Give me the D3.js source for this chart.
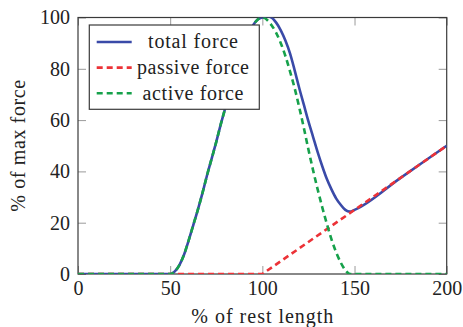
<!DOCTYPE html>
<html>
<head>
<script src="https://cdn.jsdelivr.net/npm/d3@7"></script>
</head>
<body style="margin:0">
<div class="svg-container"></div>
<script>
// values
const activeLength = [0, 50, 52.5, 55, 57.5, 60, 62.5, 65, 67.5, 70, 72.5, 75, 77.5, 80, 82.5, 85, 87.5, 90, 92.5, 95, 97.5, 100,
  105, 110, 112.5, 115, 117.5, 120, 122.5, 125, 127.5, 130, 132.5, 135, 137.5, 140, 142.5, 145, 147.5, 200];
const activeForce = [0, 0, 1, 3.5, 7.5, 13, 19, 25, 31.5, 38.5, 45, 51.5, 58.5, 65, 71.5, 78, 84, 89, 93.5, 97, 99.2, 100,
  97, 90, 85, 79, 72.5, 65, 57, 48.5, 40.5, 33, 26, 19.5, 13.5, 8.5, 4.5, 1.5, 0, 0];

const passiveLength = [0, 100, 200];
const passiveForce = [0, 0, 50];

const totalLength = [0, 50, 52.5, 55, 57.5, 60, 62.5, 65, 67.5, 70, 72.5, 75, 77.5, 80, 82.5, 85, 87.5, 90, 92.5, 95, 97.5, 100,
  102.5, 105, 107.5, 110, 112.5, 115, 117.5, 120, 122.5, 125, 127.5, 130, 132.5, 135, 137.5, 140, 142.5, 145, 147.5, 150, 175, 200];
const totalForce = [0, 0, 1, 3.5, 7.5, 13, 19, 25, 31.5, 38.5, 45, 51.5, 58.5, 65, 71.5, 78, 84, 89, 93.5, 97, 99.2, 100,
  100.5, 100, 98, 95, 91, 86, 79.5, 72.5, 66, 59.5, 53.5, 47.5, 42, 37, 33, 29.5, 27, 25, 24.3, 25, 37.5, 50];

const xTicks = [0, 50, 100, 150, 200];
const yTicks = [0, 20, 40, 60, 80, 100];
const seriesNames = ["total force", "passive force", "active force"];

const serif = "'Liberation Serif'";
const textColor = "#222";

const width = 463;
const height = 327;
const margin = { top: 17.5, right: 16.3, bottom: 53, left: 78 };
const innerW = width - margin.left - margin.right;
const innerH = height - margin.top - margin.bottom;

const svg = d3
  .select(".svg-container")
  .append("svg")
  .attr("width", width)
  .attr("height", height);

const g = svg.append("g").attr("transform", `translate(${margin.left},${margin.top})`);

const xScale = d3.scaleLinear().domain([0, 200]).range([0, innerW]);
const yScale = d3.scaleLinear().domain([0, 100]).range([innerH, 0]);

// clip to the plot area
svg.append("defs").append("clipPath").attr("id", "plot-clip")
  .append("rect").attr("width", innerW).attr("height", innerH);

// inward ticks on all four sides
const tickLen = 8;
const bottomAxis = g.append("g").attr("transform", `translate(0,${innerH})`)
  .call(d3.axisBottom(xScale).tickValues(xTicks).tickSizeInner(-tickLen).tickSizeOuter(0).tickPadding(7));
const leftAxis = g.append("g")
  .call(d3.axisLeft(yScale).tickValues(yTicks).tickSizeInner(-tickLen).tickSizeOuter(0).tickPadding(8));
g.append("g")
  .call(d3.axisTop(xScale).tickValues(xTicks).tickSizeInner(-tickLen).tickSizeOuter(0).tickFormat(""));
g.append("g").attr("transform", `translate(${innerW},0)`)
  .call(d3.axisRight(yScale).tickValues(yTicks).tickSizeInner(-tickLen).tickSizeOuter(0).tickFormat(""));

[bottomAxis, leftAxis].forEach((ax) => ax.attr("font-family", null).attr("font-size", null));
g.selectAll(".domain").remove();
g.selectAll(".tick line").attr("stroke", "#9a9a9a").attr("stroke-width", 1);
g.selectAll(".tick text")
  .attr("fill", textColor)
  .style("font-family", serif)
  .style("font-size", "20px");
bottomAxis.selectAll("text").attr("dy", "0.71em");

// frame
g.append("rect")
  .attr("width", innerW)
  .attr("height", innerH)
  .attr("fill", "none")
  .attr("stroke", "#3a3a3a")
  .attr("stroke-width", 1.2);

// axis labels
svg.append("text")
  .attr("text-anchor", "middle")
  .attr("x", margin.left + innerW / 2)
  .attr("y", 323)
  .attr("fill", textColor)
  .attr("textLength", 142)
  .style("font-family", serif)
  .style("font-size", "20px")
  .text("% of rest length");

svg.append("text")
  .attr("text-anchor", "middle")
  .attr("transform", `translate(25,${margin.top + innerH / 2}) rotate(-90)`)
  .attr("fill", textColor)
  .attr("textLength", 132)
  .style("font-family", serif)
  .style("font-size", "20px")
  .text("% of max force");

// lines
const line = d3.line()
  .x((d) => xScale(d[0]))
  .y((d) => yScale(d[1]))
  .curve(d3.curveMonotoneX);

const lines = g.append("g").attr("clip-path", "url(#plot-clip)");

const colors = ["#3a4aa8", "#ec3237", "#16a14b"];
const dash = "6,4";

lines.append("path")
  .datum(d3.zip(totalLength, totalForce))
  .attr("fill", "none")
  .attr("stroke", colors[0])
  .attr("stroke-width", 2.6)
  .attr("d", line);

lines.append("path")
  .datum(d3.zip(passiveLength, passiveForce))
  .attr("fill", "none")
  .attr("stroke", colors[1])
  .attr("stroke-width", 2.6)
  .attr("stroke-dasharray", dash)
  .attr("d", line.curve(d3.curveLinear));

lines.append("path")
  .datum(d3.zip(activeLength, activeForce))
  .attr("fill", "none")
  .attr("stroke", colors[2])
  .attr("stroke-width", 2.6)
  .attr("stroke-dasharray", dash)
  .attr("d", line.curve(d3.curveMonotoneX));

// legend
const legend = svg.append("g");
legend.append("rect")
  .attr("x", 89.3)
  .attr("y", 25)
  .attr("width", 170)
  .attr("height", 84.3)
  .attr("fill", "#fff")
  .attr("stroke", "#3a3a3a")
  .attr("stroke-width", 1.2);

const legendWidths = [90, 112, 101];
seriesNames.forEach((name, i) => {
  const y = 42 + i * 25.6;
  legend.append("line")
    .attr("x1", 96.7)
    .attr("x2", 131.7)
    .attr("y1", y)
    .attr("y2", y)
    .attr("stroke", colors[i])
    .attr("stroke-width", 2.6)
    .attr("stroke-dasharray", i === 0 ? null : dash);
  legend.append("text")
    .attr("x", 193)
    .attr("y", y)
    .attr("dy", "0.32em")
    .attr("text-anchor", "middle")
    .attr("fill", textColor)
    .attr("textLength", legendWidths[i])
    .style("font-family", serif)
    .style("font-size", "20px")
    .text(name);
});
</script>
</body>
</html>
